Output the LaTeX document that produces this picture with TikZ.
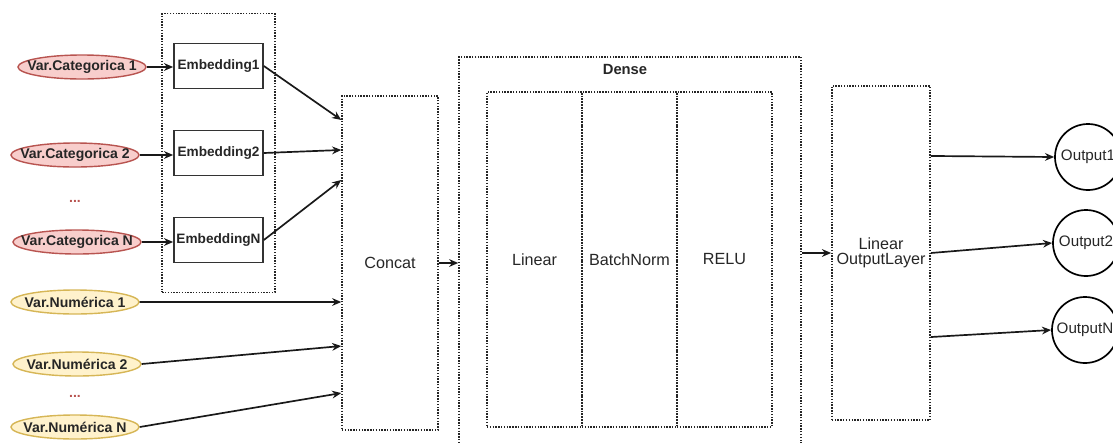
\documentclass[tikz,border=0pt]{standalone}
\usepackage{fontspec}
\setmainfont{Liberation Sans}
\usepackage{xcolor}
\usepackage{tikz}
\usetikzlibrary{shapes.geometric, arrows.meta, positioning, fit, backgrounds}
\definecolor{catfill}{HTML}{F8CECC}
\definecolor{catline}{HTML}{B85450}
\definecolor{numfill}{HTML}{FFF2CC}
\definecolor{numline}{HTML}{D6B656}
\newcommand{\fsz}[1]{\fontsize{#1}{#1}\selectfont}
\newcommand{\inlab}[1]{\makebox[0pt]{#1}}

\begin{document}
\begin{tikzpicture}[
    x=0.025cm, y=-0.025cm,
    catin/.style={draw=catline, fill=catfill, ellipse, line width=1pt, minimum width=3.2cm, minimum height=0.6cm, inner sep=0pt, text=black!85, font=\fsz{10}\bfseries},
    numin/.style={catin, draw=numline, fill=numfill},
    embbox/.style={draw=black!80, line width=1.2pt, rectangle, minimum width=2.225cm, minimum height=1.125cm, inner sep=0pt, text=black!85, font=\fsz{9.7}\bfseries},
    dotbox/.style={draw=black!85, dash pattern=on 1pt off 1pt, line width=1pt, rectangle},
    layer/.style={dotbox, minimum width=2.4cm, minimum height=8.35cm, align=center, text=black!85, font=\fsz{11.5}},
    sublayer/.style={layer, minimum width=2.375cm, minimum height=8.375cm},
    etc/.style={text=catline, font=\fsz{10}\bfseries},
    outnode/.style={draw, circle, line width=1.2pt, minimum size=1.65cm, inner sep=0pt, text=black!85, font=\fsz{10.8}},
    arrow/.style={-{Stealth[length=6.5pt,width=5.5pt]}, line width=1.2pt, black!90}
]
\useasboundingbox (0,0) rectangle (1113,442);
\node[catin] (cat1) at (82,67) {\inlab{Var.Categorica 1}};
\node[catin] (cat2) at (75,155) {\inlab{Var.Categorica 2}};
\node[etc] (catdots) at (75,201) {...};
\node[catin] (catN) at (77,242) {\inlab{Var.Categorica N}};
\node[numin] (num1) at (75,302) {\inlab{Var.Numérica 1}};
\node[numin] (num2) at (77,364) {\inlab{Var.Numérica 2}};
\node[etc] (numdots) at (75,396) {...};
\node[numin] (numN) at (75,427) {\inlab{Var.Numérica N}};
\node[embbox] (emb1) at (218.5,66) {Embedding1};
\node[embbox] (emb2) at (218.5,153) {Embedding2};
\node[embbox] (embN) at (218.5,240) {EmbeddingN};
\begin{scope}[on background layer]
    \node[dotbox, fit=(emb1) (embN), inner xsep=0.275cm, inner ysep=0.725cm] (embgroup) {};
\end{scope}
\node[layer] (concat) at (390,263) {Concat};
\node[dotbox, minimum width=8.55cm, minimum height=10.325cm] (dense) at (630,263.5) {};
\node[text=black!85, font=\fsz{10.5}\bfseries] (densetitle) at (625,69) {Dense};
\node[sublayer] (linear) at (534.5,259.5) {Linear};
\node[sublayer] (batchnorm) at (629.5,259.5) {BatchNorm};
\node[sublayer] (relu) at (724.5,259.5) {RELU};
\node[layer] (outlayer) at (881,253) {Linear\\[-1pt]OutputLayer};
\node[outnode] (out1) at (1088,157) {Output1};
\node[outnode] (out2) at (1086,243) {Output2};
\node[outnode] (outN) at (1085,330) {OutputN};
\draw[arrow] (cat1.east) -- (cat1.east -| emb1.west);
\draw[arrow] (cat2.east) -- (cat2.east -| emb2.west);
\draw[arrow] (catN.east) -- (catN.east -| embN.west);
\draw[arrow] (emb1.east) -- ([yshift=3.575cm]concat.west);
\draw[arrow] (emb2.east) -- ([yshift=2.825cm]concat.west);
\draw[arrow] (embN.east) -- ([yshift=2.075cm]concat.west);
\draw[arrow] (num1.east) -- ([yshift=-0.975cm]concat.west);
\draw[arrow] (num2.east) -- ([yshift=-2.075cm]concat.west);
\draw[arrow] (numN.east) -- ([yshift=-3.25cm]concat.west);
\draw[arrow] (concat.east) -- (concat.east -| dense.west);
\draw[arrow] (outlayer.west -| dense.east) -- (outlayer.west);
\draw[arrow] ([yshift=2.425cm]outlayer.east) -- (out1.west);
\draw[arrow] (outlayer.east) -- (out2.west);
\draw[arrow] ([yshift=-2.1cm]outlayer.east) -- (outN.west);
\end{tikzpicture}
\end{document}
